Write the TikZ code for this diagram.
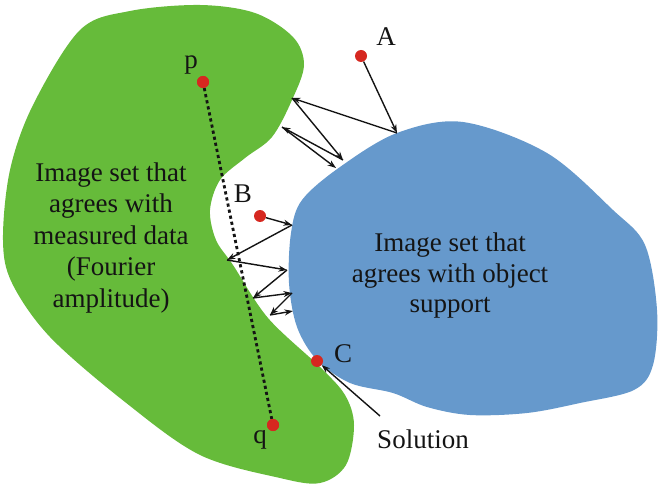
\documentclass[tikz,border=0pt]{standalone}
\usepackage{fontspec}
\setmainfont{Liberation Serif}
\usetikzlibrary{arrows.meta}
\definecolor{gfill}{RGB}{102,187,58}
\definecolor{bfill}{RGB}{102,153,204}
\definecolor{rdot}{RGB}{214,40,32}
\definecolor{ink}{RGB}{20,20,20}
\begin{document}
\begin{tikzpicture}[x=1pt,y=-1pt,
  dot/.style={circle,fill=rdot,inner sep=0pt,minimum size=12pt},
  lbl/.style={anchor=base,inner sep=0pt,text=ink,font=\fontsize{27}{31}\selectfont},
  setlbl/.style={align=center,inner sep=0pt,text=ink},
  arr/.style={-{Stealth[length=8.5pt,width=6pt]},line width=1.4pt,draw=ink},
  pq/.style={dash pattern=on 3.2pt off 3pt,line width=2.8pt,draw=ink}]
\useasboundingbox (0,0) rectangle (660,486);
% green set
\fill[gfill] plot[smooth cycle,tension=0.55] coordinates {
 (80,30) (130,11) (200,5) (255,13) (293,37) (304,65) (292,100) (272,137)
 (245,158) (220,180) (210,210) (216,240) (233,265) (268,318) (320,367)
 (345,395) (354,425) (346,465) (320,483) (280,478) (200,455) (125,402)
 (50,337) (12,283) (3,240) (10,170) (33,105)};
% blue set
\fill[bfill] plot[smooth cycle,tension=0.55] coordinates {
 (397,133) (463,122) (547,153) (613,210) (645,245) (657,310) (653,365)
 (634,390) (580,403) (527,413) (470,415) (427,407) (393,393) (350,383)
 (317,360) (297,327) (289,283) (291,233) (302,200) (340,167)};
% texts in sets
\node[setlbl,font=\fontsize{27}{31.5}\selectfont] (gtext) at (111,238)
  {Image set that\\agrees with\\measured data\\(Fourier\\amplitude)};
\node[setlbl,font=\fontsize{27}{30.5}\selectfont] (btext) at (450,276)
  {Image set that\\agrees with object\\support};
% points
\node[dot] (p) at (203,82) {};
\node[dot] (q) at (273,425) {};
\node[dot] (A) at (361,56) {};
\node[dot] (B) at (260,216) {};
\node[dot] (C) at (317,361) {};
\draw[pq] (p) -- (q);
\node[dot] at (p) {};
\node[dot] at (q) {};
% reflection points
\coordinate (a1) at (397,133);
\coordinate (a2) at (292,98);
\coordinate (a3) at (343,160);
\coordinate (a4) at (282,127);
\coordinate (a5) at (336,168);
\coordinate (b1) at (292,225);
\coordinate (b2) at (227,260);
\coordinate (b3) at (287,270);
\coordinate (b4) at (253,298);
\coordinate (b5) at (292,293);
\coordinate (b6) at (270,315);
\coordinate (b7) at (293,311);
\coordinate (s0) at (380,416);
\draw[arr] (A) -- (a1);
\draw[arr] (a1) -- (a2);
\draw[arr] (a2) -- (a3);
\draw[arr] (a3) -- (a4);
\draw[arr] (a4) -- (a5);
\draw[arr] (B) -- (b1);
\draw[arr] (b1) -- (b2);
\draw[arr] (b2) -- (b3);
\draw[arr] (b3) -- (b4);
\draw[arr] (b4) -- (b5);
\draw[arr] (b5) -- (b6);
\draw[arr] (b6) -- (b7);
\draw[arr] (s0) -- (C);
% labels
\node[lbl] (lp) at (191,69) {p};
\node[lbl] (lq) at (260,443) {q};
\node[lbl] (lA) at (386,46) {A};
\node[lbl] (lB) at (243,203) {B};
\node[lbl] (lC) at (343,362) {C};
\node[lbl] (sol) at (423,448) {Solution};
\end{tikzpicture}
\end{document}
